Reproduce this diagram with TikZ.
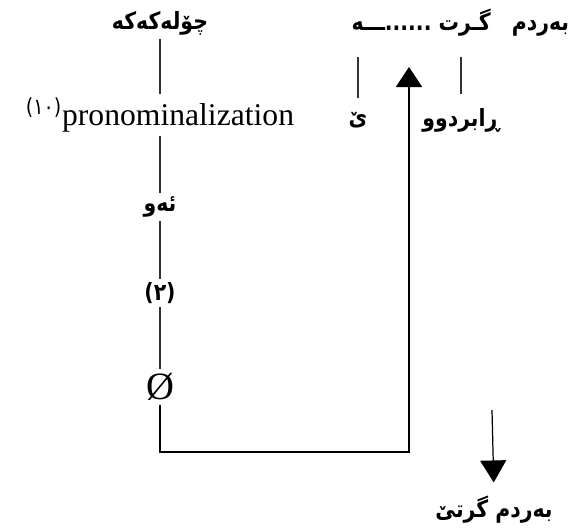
\documentclass[tikz,border=0pt]{standalone}
\usepackage{fontspec}
\setmainfont{Liberation Serif}
\newfontfamily\kurdfont[Script=Arabic, FakeStretch=0.86]{DejaVu Sans}
\TeXXeTstate=1
\usetikzlibrary{arrows.meta}

\begin{document}
\begin{tikzpicture}[
  every node/.style={align=center, inner sep=2pt},
  kw/.style   ={font=\kurdfont\bfseries\fontsize{13.5}{15}\selectfont},
  lat/.style  ={font=\fontsize{18}{20}\selectfont},
  link/.style ={draw=black!80, line width=0.6pt},
  mainarrow/.style={-{Triangle[width=5.2mm,length=4mm]}, line width=1.1pt},
  outarrow/.style ={-{Triangle[width=5.2mm,length=4.4mm]}, line width=0.7pt},
]
\useasboundingbox (0,0) rectangle (11.62,-10.62);

% Left column, top to bottom
\node[kw]  (sparrow) at (3.2,-0.46) {\beginR چۆلەکەکە\endR};
\node[lat] (pron)    at (3.2,-2.3)
  {\textsuperscript{\kurdfont(١٠)}pronominalization};
\node[kw]  (they)    at (3.2,-4.14) {\beginR ئەو\endR};
\node[kw]  (two)     at (3.2,-5.86) {(٢)};
\node[font=\fontsize{22}{24}\selectfont] (null) at (3.2,-7.74) {Ø};

% Right side: verb and its parts
\node[kw, anchor=east] (head) at (11.46,-0.46) {\beginR بەردم\ \ \ گـرت ......ـــە\endR};
\node[kw]  (ye)      at (7.16,-2.4) {\beginR ێ\endR};
\node[kw]  (past)    at (9.22,-2.4) {\beginR ڕابردوو\endR};
\node[kw]  (result)  at (9.88,-10.2) {\beginR بەردم گرتێ\endR};

% Helper points for the long arrow
\coordinate (turn)     at (8.18,-9.04);
\coordinate (arrowtip) at (8.18,-1.34);
\coordinate (outstart) at (9.84,-8.2);

% Left chain
\draw[link] (sparrow) -- (pron);
\draw[link] (pron) -- (they);
\draw[link] (they) -- (two);
\draw[link] (two) -- (null);

% Lines under the verb
\draw[link, shorten <=2mm, shorten >=3.2mm] (ye.north) -- (ye.north |- head.south);
\draw[link, shorten <=2mm, shorten >=3.2mm] (past.north) -- (past.north |- head.south);

% Long arrow back up, and output arrow
\draw[mainarrow] (null.south) |- (turn) -- (arrowtip);
\draw[outarrow, shorten >=2mm] (outstart) -- (result.north);

\end{tikzpicture}
\end{document}
